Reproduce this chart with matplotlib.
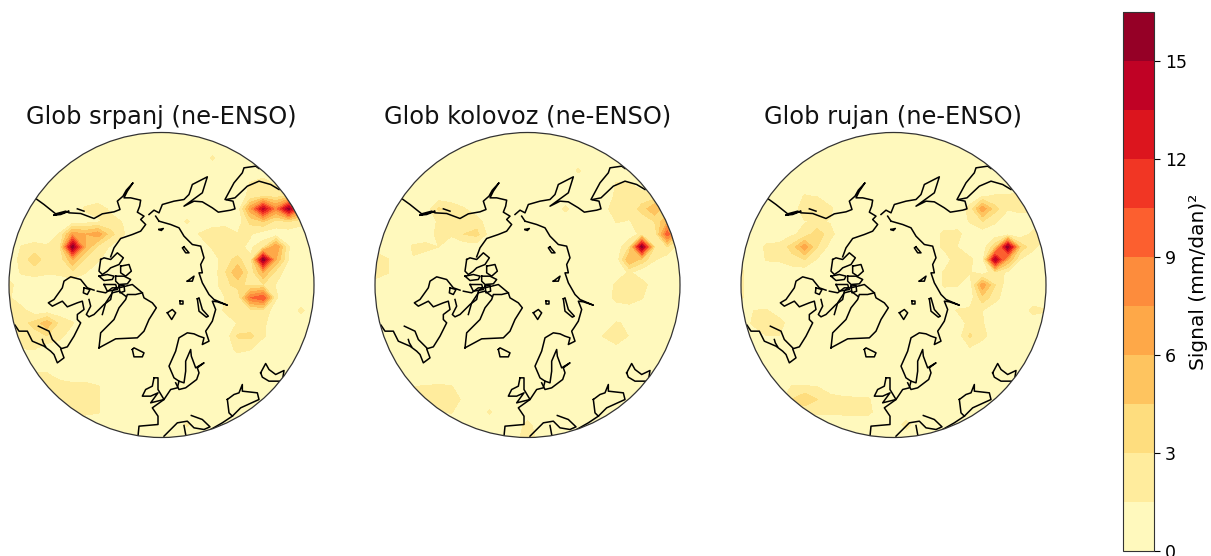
import numpy as np
import matplotlib
matplotlib.use("Agg")
import matplotlib.pyplot as plt
from matplotlib.patches import Circle

# ================= TEXTS =================
titles = ["Glob srpanj (ne-ENSO)", "Glob kolovoz (ne-ENSO)", "Glob rujan (ne-ENSO)"]
cbar_label = "Signal (mm/dan)²"
levels = [0, 1.5, 3, 4.5, 6, 7.5, 9, 10.5, 12, 13.5, 15, 16.5]
cbar_ticks = [0, 3, 6, 9, 12, 15]

# ================= SIGNAL (25 x 25, top row first) =================
_ = 0.5
srpanj = [
    [_,_,_,_,_,_,_,_,_,_,_,_,_,_,_,_,_,_,_,_,_,_,_,_,_],
    [_,_,_,_,_,_,_,_,_,_,_,_,_,_,_,_,_,_,_,_,_,_,_,_,_],
    [_,_,_,_,_,_,_,_,_,_,_,_,_,_,_,_,1.7,_,_,_,_,_,_,_,_],
    [_,_,_,_,_,_,_,_,_,_,_,_,_,_,_,_,_,_,_,_,_,_,_,_,_],
    [_,_,_,_,_,_,_,_,_,_,_,_,_,_,_,_,_,_,_,1.6,2.2,1.2,_,_,_],
    [_,_,_,_,_,_,_,_,_,_,_,_,_,_,_,_,_,_,_,2,2.5,2.5,3,_,_],
    [_,_,_,_,_,_,1.7,2.2,1.2,_,_,_,_,_,_,_,_,_,_,7,14,8,15.5,8,3],
    [_,_,_,_,_,_,.8,1.2,2,1.4,_,_,_,_,1.7,_,_,_,_,3.5,4.5,2.5,3,2,_],
    [_,_,_,_,1.6,7,6,7,3.5,1.6,_,_,_,_,_,1.6,2.5,3,1.6,1.6,_,_,_,_,_],
    [_,1.6,2,1.7,2.5,16,6,2.5,1.3,_,_,_,_,_,_,_,1.7,2.5,1.8,1.2,2.5,7.5,1.6,_,_],
    [_,2,4,2,2,6,2.5,1.7,_,_,_,_,_,_,_,_,_,2.4,3.5,1.7,16,6,1.4,_,_],
    [_,1.7,2,1.7,1.8,2.5,1.6,_,_,_,_,_,_,_,_,_,_,2.8,6,2,6,2.5,_,_,_],
    [2,_,_,_,_,_,_,_,_,_,_,_,_,_,_,_,_,2.6,3.5,2.5,2.8,1.4,_,_,_],
    [1.7,_,_,_,_,_,_,_,_,_,_,_,_,_,_,_,_,1.5,1.7,9,10.5,1.7,_,_,_],
    [2,2,_,_,_,_,_,_,_,_,_,_,_,_,_,_,_,1.7,1.7,2.5,2.6,_,_,1.8,_],
    [2.5,2.5,3.5,5.5,2.5,1.6,_,_,_,_,_,_,_,_,_,_,_,_,1.6,1.8,1.8,_,_,_,_],
    [_,2,2.4,3,2,_,_,_,_,_,_,_,_,_,_,_,_,_,3.2,3.4,1.7,_,_,_,_],
    [_,1.5,1.6,_,_,_,_,_,_,_,_,_,_,_,_,_,_,_,2,1.6,_,_,_,_,_],
    [_,_,_,_,_,_,_,_,_,_,_,_,_,_,_,_,_,_,_,_,_,_,_,_,_],
    [_,_,1.7,1.6,_,_,_,_,_,_,_,_,_,_,_,_,_,_,_,_,_,_,_,_,_],
    [_,_,_,3,2.5,2,2,1.6,_,_,_,_,_,_,_,_,_,_,_,_,_,_,_,_,_],
    [_,_,_,_,3,2.5,2.2,1.6,_,_,_,_,_,_,_,_,_,_,_,_,_,_,_,_,_],
    [_,_,_,_,_,2.5,1.8,1.6,_,_,_,_,_,_,_,_,_,_,_,_,_,_,_,_,_],
    [_,_,_,_,_,_,_,_,_,_,_,_,_,_,1.7,_,_,_,_,_,_,_,_,_,_],
    [_,_,_,_,_,_,_,_,_,_,_,_,_,_,_,_,_,_,_,_,_,_,_,_,_],
]
kolovoz = [
    [_,_,_,_,_,_,_,_,_,_,_,_,_,_,_,_,_,_,_,_,_,_,_,_,_],
    [_,_,_,_,_,_,_,_,_,_,_,_,_,_,_,_,_,_,_,_,_,_,_,_,_],
    [_,_,_,_,_,_,_,_,_,_,_,_,_,_,_,_,_,_,_,_,_,_,_,_,_],
    [_,_,_,_,_,_,_,_,_,_,_,_,_,_,_,_,1.7,_,_,_,_,_,_,_,_],
    [_,_,_,_,_,_,_,_,_,_,_,_,_,_,_,_,_,_,_,1.6,1.6,_,_,_,_],
    [_,_,_,_,_,_,_,_,_,_,_,_,_,_,_,_,_,_,_,1.8,2,2.2,2,_,_],
    [_,_,_,_,_,3.2,2.4,1.6,_,_,_,_,_,_,_,1.8,_,_,_,3,2,3.5,6,3,_],
    [_,_,_,_,_,1.7,1.5,2,2.2,_,_,_,_,_,_,_,_,_,_,1.6,1.4,2.2,3,6,3],
    [_,_,_,_,_,2,1.7,3,3.5,.8,_,_,_,_,_,_,_,_,_,_,_,2,1.6,10,4],
    [_,_,_,1.7,2,1.5,_,_,_,_,_,_,_,_,_,_,_,_,_,_,3,16,3,3,_],
    [3,1.6,_,1.4,_,_,_,_,_,_,_,_,_,_,_,_,_,_,_,_,6,4,1.6,_,_],
    [2.5,1.6,_,_,_,_,_,_,_,_,_,_,_,_,_,_,_,_,_,_,1.7,_,_,_,_],
    [_,_,_,_,_,_,_,_,_,_,_,_,_,_,_,_,_,_,_,1.8,3,2.2,_,_,_],
    [_,_,_,_,_,_,_,_,_,_,_,_,_,_,_,_,_,_,_,2,2.5,1.6,_,_,_],
    [_,_,_,_,_,_,_,_,_,_,_,_,_,_,_,_,_,_,_,_,_,_,_,_,_],
    [_,_,_,_,_,_,_,_,_,_,_,_,_,_,_,_,_,_,_,1.6,1.3,_,_,_,_],
    [_,_,_,_,_,_,_,_,_,_,_,_,_,_,_,_,_,_,1.6,2.5,1.4,_,_,_,_],
    [_,_,_,_,_,_,_,_,_,_,_,_,_,_,_,_,_,_,_,1,_,_,_,_,_],
    [_,_,_,_,_,_,_,_,_,_,_,_,_,_,_,_,_,_,_,_,_,_,_,_,_],
    [_,_,_,_,_,_,_,_,_,_,_,_,_,_,_,_,_,_,_,_,_,_,_,_,_],
    [_,_,_,1.5,1.6,1.7,1.6,_,_,_,_,_,_,_,_,_,_,_,_,_,_,_,_,_,_],
    [_,_,_,1.6,2,2.2,2.2,1.2,_,_,_,_,_,_,_,_,_,_,_,_,_,_,_,_,_],
    [_,_,_,_,_,1.4,1.6,_,_,1.7,_,_,_,_,_,_,_,_,_,_,_,_,_,_,_],
    [_,_,_,_,_,_,_,_,_,_,_,_,2,_,_,_,_,_,_,_,_,_,_,_,_],
    [_,_,_,_,_,_,_,_,_,_,_,_,3,_,_,_,_,_,_,_,_,_,_,_,_],
]
rujan = [
    [_,_,_,_,_,_,_,_,_,_,_,_,_,_,_,_,_,_,_,_,_,_,_,_,_],
    [_,_,_,_,_,_,_,_,_,_,_,_,_,_,_,_,_,_,_,_,_,_,_,_,_],
    [_,_,_,_,_,_,_,_,_,_,_,_,_,_,_,_,_,_,_,_,_,_,_,_,_],
    [_,_,_,_,_,_,_,_,_,_,_,_,_,_,_,_,_,_,_,_,_,_,_,_,_],
    [_,_,_,_,_,_,_,_,_,_,_,_,_,_,_,_,_,_,_,_,_,_,_,_,_],
    [_,_,_,_,_,1.6,1.4,_,_,_,_,_,_,_,_,_,_,_,_,1.4,1.6,1.6,2,_,_],
    [_,_,_,_,_,2.5,3,1.8,_,_,_,_,_,_,_,_,_,_,2,7,3.5,1.6,2,1.8,_],
    [_,_,_,_,_,1.4,1.7,1.4,_,_,_,_,_,_,_,_,_,_,1.6,3,1.7,_,_,_,_],
    [_,_,_,_,1.2,2,4,2,_,_,_,_,_,_,_,_,1.9,2,_,_,_,_,_,2,1.8],
    [_,_,1.8,2,3.5,7,3,1,_,_,_,_,_,_,_,_,1.9,1.5,_,_,4,16,4,1.9,_],
    [1.6,_,1.6,1.7,2.5,3,1.3,_,_,_,_,_,_,_,_,_,_,2.5,1.8,_,15,6,1.4,_,_],
    [1.7,_,_,_,_,_,_,_,_,_,_,_,_,_,_,_,1.7,2.8,1.6,_,2.5,1.1,_,_,_],
    [1.7,_,_,_,_,_,_,_,_,_,_,_,_,_,_,_,1.7,1.6,_,7,3,_,_,_,_],
    [1.7,_,_,_,_,_,_,_,_,_,_,_,_,_,_,_,_,_,_,4,2,_,_,_,_],
    [_,1.5,1.6,_,_,_,_,_,_,_,_,_,_,_,_,_,_,1.6,1.8,1.5,_,_,_,2,1.6],
    [_,1.8,2.2,2.2,_,_,_,_,_,_,_,_,_,_,_,_,_,_,2,1.6,_,_,_,_,_],
    [_,_,1.5,1.5,_,_,_,_,_,_,_,_,_,_,_,_,_,_,3.2,2,_,_,_,_,_],
    [_,_,_,_,_,_,_,_,_,_,_,_,_,_,_,_,_,_,1.3,_,_,_,_,_,_],
    [_,_,_,_,_,_,_,_,_,_,_,_,_,_,_,_,_,_,_,_,_,_,_,_,_],
    [_,_,_,_,_,_,_,_,_,_,_,_,_,_,_,_,_,_,_,_,_,_,_,_,_],
    [_,_,_,_,1.6,1.6,1.5,_,_,_,_,_,_,_,_,_,_,_,_,_,_,_,_,_,_],
    [_,_,_,_,3,4.3,3,2.2,1.8,1.7,1.7,_,_,_,_,_,_,_,_,_,_,_,_,_,_],
    [_,_,_,_,_,1.8,1.7,1.7,1.8,1.9,1.8,.9,_,_,_,_,_,_,_,_,_,_,_,_,_],
    [_,_,_,_,_,_,_,_,_,_,_,_,_,2,_,_,_,_,_,_,_,_,_,_,_],
    [_,_,_,_,_,_,_,_,_,_,_,_,_,_,_,_,_,_,_,_,_,_,_,_,_],
]
fields = [srpanj, kolovoz, rujan]

# ================= COASTLINES (traced in map units, 15..930 across the disc) =================
coast_north = [(95,222),(120,240),(145,260),(155,268),(185,260),(195,265),(230,267),(270,282),(295,268),(330,262),(348,255),(340,230),(357,215),(367,197),(387,175),(370,200),(360,220),(380,220),(410,227),(407,245),(400,263),(420,275),(410,285),(425,300),(410,320),(385,330),(350,342),(330,370),(320,397)]
isle_bering = [(150,272),(165,268),(195,260),(170,270),(150,272)]
isle_small = [(220,253),(240,260)]
coast_hudson = [(270,497),(250,490),(230,465),(200,457),(180,470),(175,490),(150,525),(133,535),(145,545),(175,530),(190,547),(220,535),(235,530),(240,555),(220,570),(220,585),(230,595),(210,635),(190,667),(170,673),(180,700),(160,715),(150,690),(140,680),(120,665),(85,650),(70,620),(45,620),(33,602)]
coast_lakes = [(103,605),(135,620),(145,645),(170,670)]
coast_lakes2 = [(115,645),(118,655),(125,667)]
coast_baffin = [(255,525),(260,545),(247,570),(255,577),(270,570),(285,555),(300,540),(320,525),(325,500),(335,490)]
coast_baffin2 = [(280,500),(305,505),(325,490),(345,490),(385,480),(415,505)]
coast_ring = [(240,490),(258,495),(250,510),(238,505),(240,490)]
isle_a = [(290,405),(300,400),(320,405),(340,385),(358,400),(345,420),(320,430),(310,440),(295,450),(285,440),(290,405)]
isle_b = [(350,425),(375,420),(382,440),(365,455),(350,445),(350,425)]
isle_c = [(285,455),(310,450),(330,455),(325,465),(300,468),(285,455)]
isle_d = [(335,455),(360,455),(380,465),(370,478),(345,480),(335,470),(335,455)]
isle_e = [(300,480),(335,480),(340,495),(310,500),(300,480)]
isle_f = [(345,485),(360,482),(362,500),(348,505),(345,485)]
coast_green = [(285,670),(290,625),(315,600),(330,585),(345,550),(365,525),(370,510),(395,510),(415,505),(420,520),(445,535),(457,550),(435,585),(420,620),(400,640),(335,643),(285,670)]
coast_ellesmere = [(365,515),(345,500),(325,505),(305,535),(295,570)]
coast_iceland = [(385,675),(390,670),(420,685),(415,697),(390,697),(385,675)]
coast_eurasia = [(465,290),(500,300),(525,310),(540,335),(565,360),(590,365),(600,400),(590,420),(595,445),(585,445),(595,475),(615,510),(630,525),(670,542),(640,532),(625,530),(635,555),(625,590),(612,610),(605,620),(615,650),(595,660),(600,640),(585,635),(570,628),(550,625),(525,640),(515,680),(495,725),(510,760),(525,770),(520,790),(500,795),(480,825),(445,850),(462,875),(462,900),(405,905),(402,935)]
coast_baltic = [(525,770),(540,775),(545,740),(545,710),(560,675),(562,695),(575,730),(600,715),(580,730),(585,745),(578,765),(545,790),(525,795),(515,775)]
coast_bering = [(435,270),(450,257),(465,265),(475,240),(510,230),(540,225),(555,210),(565,180),(610,157),(595,205),(540,245),(570,230),(595,232),(625,250),(643,263),(680,257),(693,253),(687,230),(663,225),(690,175),(715,145),(720,130),(755,125),(765,132)]
coast_pacific = [(668,225),(693,220),(730,185),(765,170),(800,180),(825,195)]
coast_arctic = [(455,275),(465,290)]
isle_dot = [(465,315),(478,312),(472,318),(465,315)]
isle_kara = [(540,367),(555,385),(545,385),(535,370),(540,367)]
isle_north = [(550,470),(570,455),(565,470),(550,470)]
coast_uk = [(450,760),(462,760),(462,795),(480,825),(440,835),(462,805),(440,815),(415,815),(425,795),(445,785),(450,760)]
coast_novaya = [(580,523),(585,520),(595,555),(613,575),(607,578),(585,560),(580,523)]
coast_svalbard = [(490,565),(505,555),(515,565),(503,585),(490,565)]
isle_jan = [(528,530),(536,530),(536,537),(528,537),(528,530)]
coast_caspian = [(770,745),(785,717),(795,735),(815,750),(840,738),(835,770),(795,770),(775,758),(770,745)]
coast_black = [(670,825),(690,810),(705,805),(715,780),(715,800),(760,805),(765,825),(710,850),(685,875),(675,865),(670,825)]
coast_arabia = [(685,875),(655,895),(620,915)]
coast_med = [(562,873),(595,885),(618,907),(600,915),(570,910),(550,890),(520,895),(480,935)]
coast_med2 = [(540,903),(545,930)]
coasts = [coast_north, isle_bering, isle_small, coast_hudson, coast_lakes, coast_lakes2,
          coast_baffin, coast_baffin2, coast_ring, isle_a, isle_b, isle_c, isle_d, isle_e, isle_f,
          coast_green, coast_ellesmere, coast_iceland, coast_eurasia, coast_baltic, coast_bering,
          coast_pacific, coast_arctic, isle_dot, isle_kara, isle_north, coast_uk, coast_novaya,
          coast_svalbard, isle_jan, coast_caspian, coast_black, coast_arabia, coast_med, coast_med2]

# ================= FIGURE =================
W, H = 1211, 556
fig = plt.figure(figsize=(W / 100, H / 100), dpi=100)
panel_left = [9, 375, 741]
grid_x = np.linspace(15, 930, 25)
grid_y = np.linspace(24, 939, 25)

for left, title, field in zip(panel_left, titles, fields):
    ax = fig.add_axes([left / W, (H - 437.5) / H, 305 / W, 305 / H])
    ax.set_xlim(15, 930)
    ax.set_ylim(939, 24)
    ax.set_aspect("equal")
    ax.axis("off")
    cf = ax.contourf(grid_x, grid_y, np.array(field), levels=levels, cmap="YlOrRd")
    disc = Circle((472.5, 481.5), 457.5, transform=ax.transData, fc="none", ec="#333333", lw=0.9, zorder=5, clip_on=False)
    ax.add_patch(disc)
    cf.set_clip_path(disc)
    for c in coasts:
        xs, ys = zip(*c)
        line, = ax.plot(xs, ys, color="black", lw=1.1, zorder=4)
        line.set_clip_path(disc)
    ax.text(472.5, 12, title, ha="center", va="bottom", fontsize=17.4, color="#111111")

# ================= COLORBAR =================
cax = fig.add_axes([1123 / W, (H - 551) / H, 31 / W, 539 / H])
cb = fig.colorbar(cf, cax=cax, ticks=cbar_ticks)
cb.ax.tick_params(labelsize=12.5, length=4.5, width=0.8)
cb.set_label(cbar_label, fontsize=14.5, labelpad=1)
cb.outline.set_edgecolor("#333333")

fig.savefig("out.png", dpi=100)
